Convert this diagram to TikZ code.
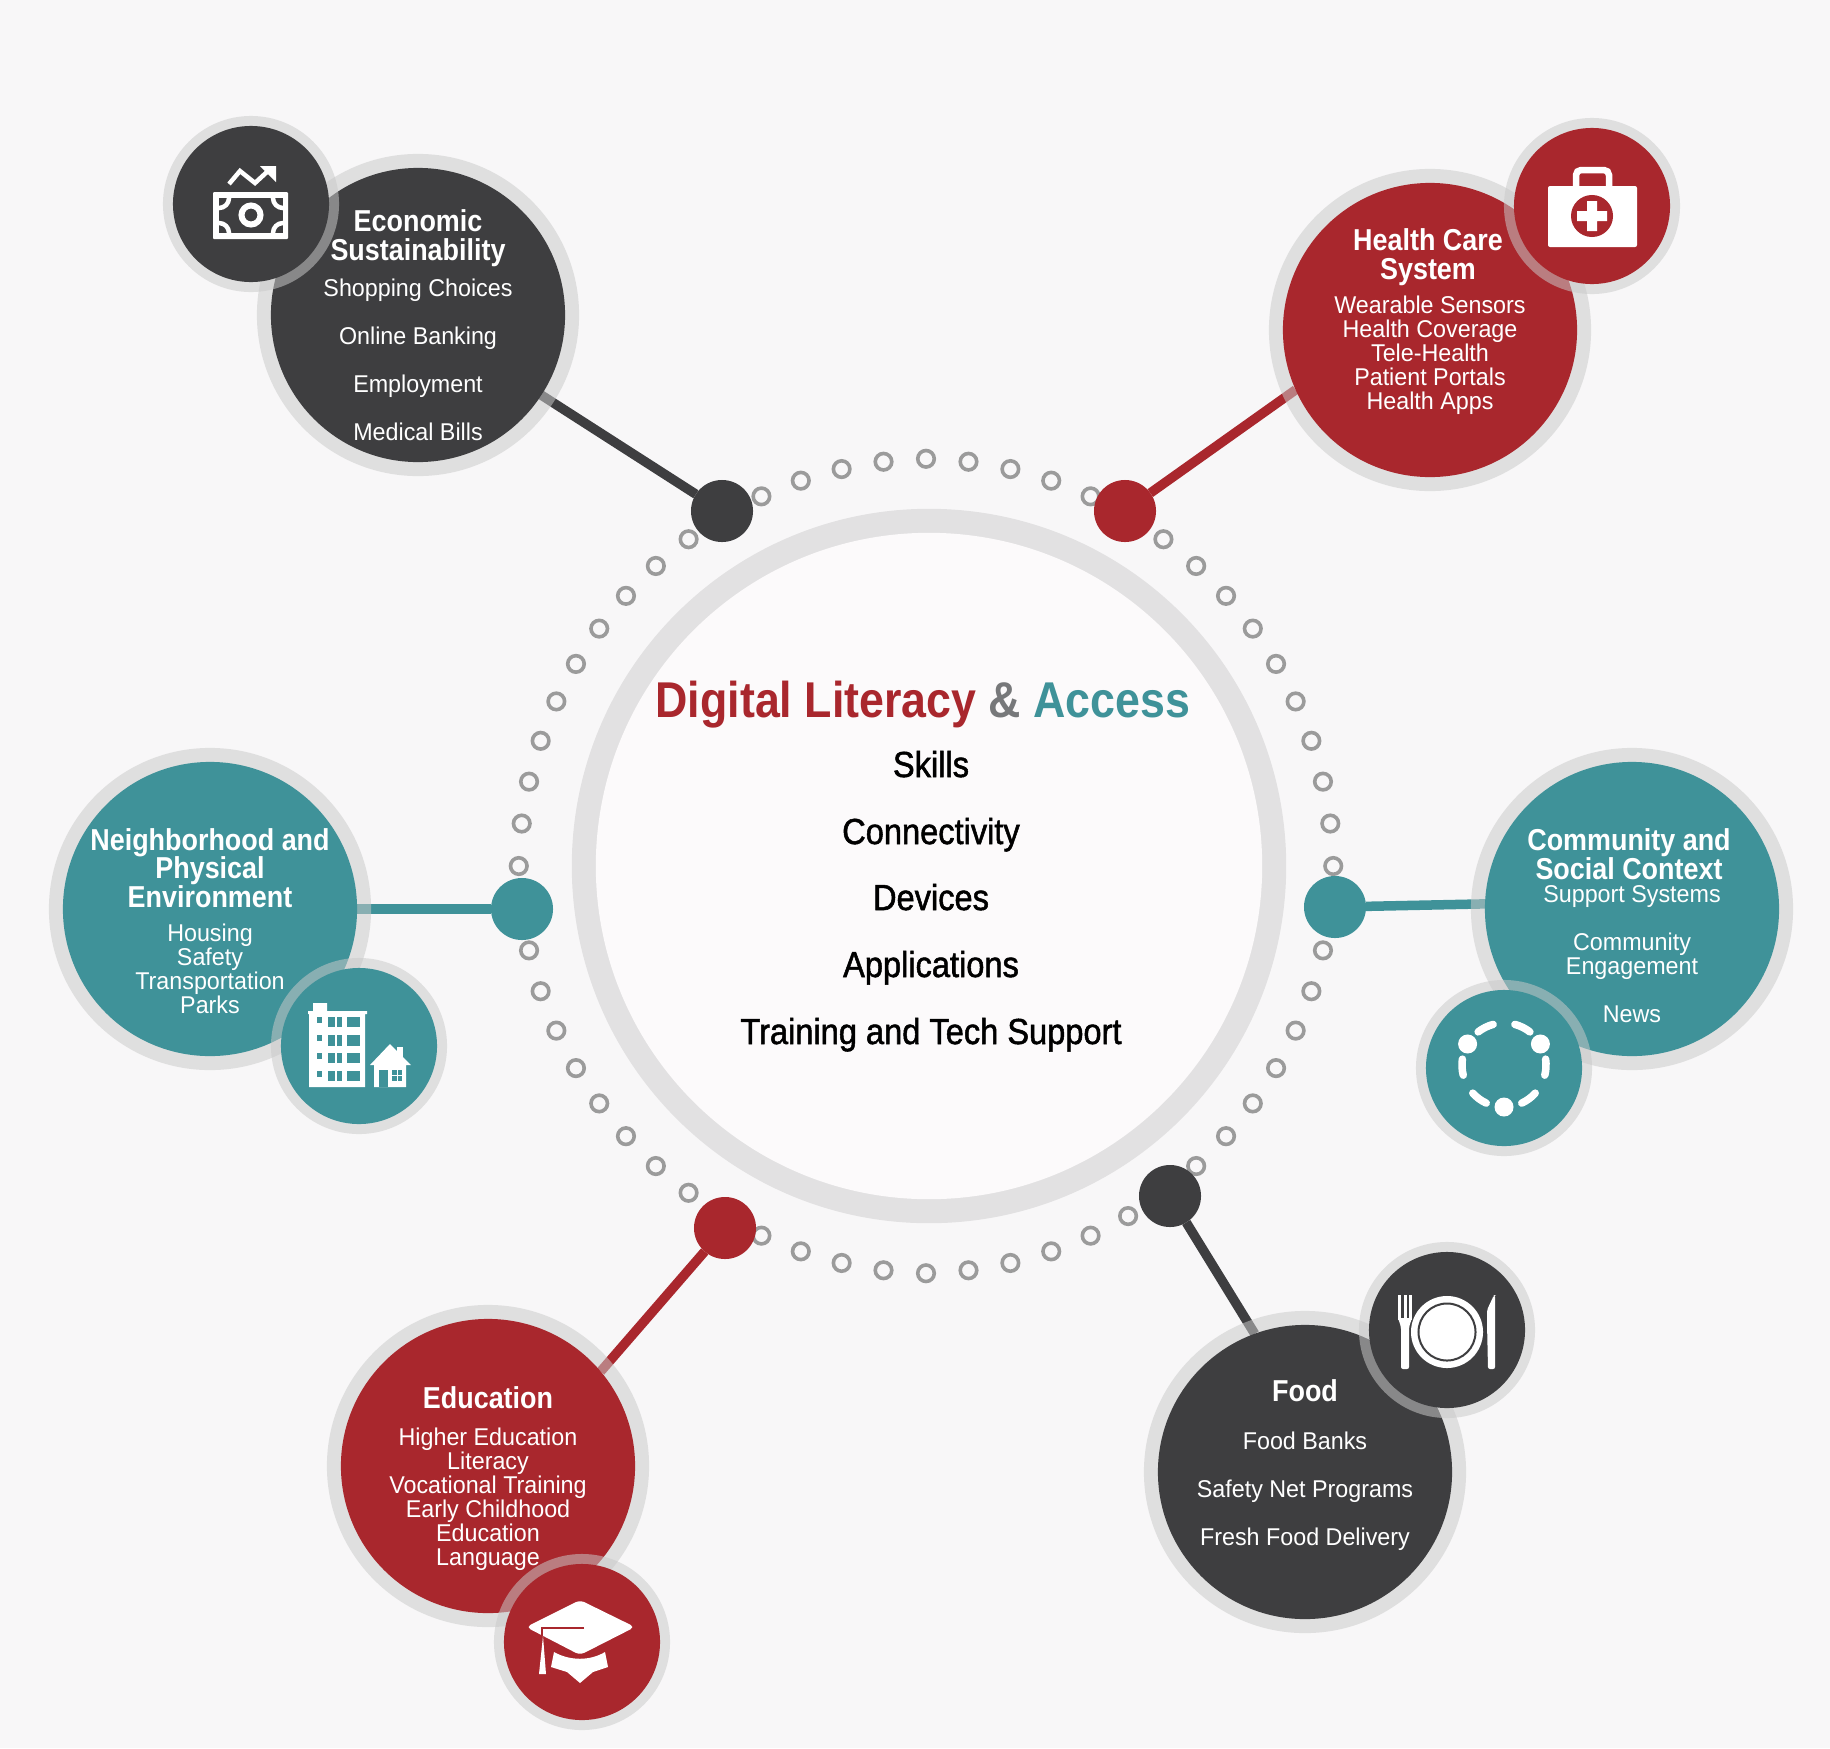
\documentclass[tikz,border=0pt]{standalone}
\usepackage{fontspec}
\setmainfont{Liberation Sans}
\newfontfamily\headfont[FakeStretch=.89]{Liberation Sans}
\newfontfamily\itemfont[FakeStretch=.9,FakeBold=1.4]{Liberation Sans}
\newfontfamily\bodyfont[FakeStretch=.96]{Liberation Sans}
\usetikzlibrary{backgrounds}

\definecolor{pagegray}{HTML}{F8F7F8}
\definecolor{corewhite}{HTML}{FCFAFB}
\definecolor{corering}{HTML}{E2E1E2}
\definecolor{halogray}{HTML}{CACACA}
\definecolor{dotgray}{HTML}{9B9B9B}
\definecolor{inkgray}{HTML}{3E3E40}
\definecolor{brickred}{HTML}{A9272D}
\definecolor{seateal}{HTML}{3F9299}
\definecolor{ampgray}{HTML}{77787A}

\tikzset{
  disc/.style={circle,inner sep=0,outer sep=0},
  halo/.style={preaction={draw=halogray,draw opacity=.53,line width=#1}},
  bigdisc/.style={disc,minimum size=2.94cm,halo=.28cm},
  icondisc/.style={disc,minimum size=1.56cm,halo=.2cm},
  hub/.style={disc,minimum size=.62cm},
  ringdot/.style={disc,draw=dotgray,line width=.036cm,minimum size=.165cm},
  headtext/.style={inner sep=0,align=center,text=white,font=\headfont\bfseries\fontsize{8.6}{8.1}\selectfont},
  listtext/.style={inner sep=0,align=center,text=white,font=\bodyfont\fontsize{6.9}{6.83}\selectfont},
  itemtext/.style={inner sep=0,anchor=base,font=\itemfont\fontsize{10.3}{12}\selectfont},
  link/.style={line width=.095cm}
}

\begin{document}
\begin{tikzpicture}[x=.01cm,y=-.01cm]
  \useasboundingbox (0,0) rectangle (1830,1748);

  \node[disc,fill=corewhite,minimum size=6.66cm,preaction={draw=corering,line width=.48cm}] (core) at (929,866) {};
  \coordinate (dotcentre) at (926,866);
  \foreach \a in {0,6,...,354} {
    \pgfmathsetmacro{\r}{4.07-.035*abs(sin(2*\a))}
    \node[ringdot] (dot\a) at ([shift={(\a:\r cm)}]dotcentre) {};
  }

  \node[hub,fill=inkgray] (hubEcon) at (722,511) {};
  \node[hub,fill=brickred] (hubHealth) at (1125,511) {};
  \node[hub,fill=seateal] (hubNeigh) at (522,909) {};
  \node[hub,fill=seateal] (hubComm) at (1335,907) {};
  \node[hub,fill=brickred] (hubEdu) at (725,1228) {};
  \node[hub,fill=inkgray] (hubFood) at (1170,1196) {};

  \node[bigdisc,fill=inkgray] (econ) at (418,315) {};
  \node[bigdisc,fill=brickred] (health) at (1430,330) {};
  \node[bigdisc,fill=seateal] (neigh) at (210,909) {};
  \node[bigdisc,fill=seateal] (comm) at (1632,909) {};
  \node[bigdisc,fill=brickred] (edu) at (488,1466) {};
  \node[bigdisc,fill=inkgray] (food) at (1305,1472) {};

  \begin{scope}[on background layer]
    \fill[pagegray] (0,0) rectangle (1830,1748);
    \draw[link,inkgray] (hubEcon) -- (econ.-33.7);
    \draw[link,brickred] (hubHealth) -- (health.204);
    \draw[link,seateal] (hubNeigh) -- (neigh.0);
    \draw[link,seateal] (hubComm) -- (comm.178.6);
    \draw[link,brickred] (hubEdu) -- (edu.40);
    \draw[link,inkgray] (hubFood) -- (food.110.8);
  \end{scope}

  \node[icondisc,fill=inkgray] (econIcon) at (251,204) {};
  \node[icondisc,fill=brickred] (healthIcon) at (1592,206) {};
  \node[icondisc,fill=seateal] (neighIcon) at (359,1046) {};
  \node[icondisc,fill=seateal] (commIcon) at (1504,1068) {};
  \node[icondisc,fill=brickred] (eduIcon) at (582,1642) {};
  \node[icondisc,fill=inkgray] (foodIcon) at (1447,1330) {};

  % banknote
  \begin{scope}[shift={(econIcon.center)}]
    \fill[white,rounded corners=.01cm] (-38,-12) rectangle (37,35);
    \fill[inkgray] (-32,-6) rectangle (32,29);
    \begin{scope}
      \clip (-32,-6) rectangle (32,29);
      \foreach \x/\y in {-32/-6,32/-6,-32/29,32/29}
        \draw[white,line width=.045cm] (\x,\y) circle[radius=.1cm];
    \end{scope}
    \draw[white,line width=.06cm] (0,11) circle[radius=.095cm];
    \draw[white,line width=.045cm] (-22,-20) -- (-11,-33) -- (4,-21) -- (17,-33);
    \fill[white] (9,-38) -- (25,-38) -- (25,-22) -- cycle;
  \end{scope}

  % first aid kit
  \begin{scope}[shift={(healthIcon.center)}]
    \draw[white,line width=.065cm,rounded corners=.05cm] (-16,-18) -- (-16,-36) -- (17,-36) -- (17,-18);
    \fill[white,rounded corners=.02cm] (-44,-20) rectangle (45,41);
    \fill[brickred] (0,10) circle[radius=.21cm];
    \fill[white] (-5,-5) rectangle (5,25) (-15,5) rectangle (15,15);
  \end{scope}

  % block of flats and house
  \begin{scope}[shift={(neighIcon.center)}]
    \fill[white] (-50,-34) rectangle (6,41) (-51,-35) rectangle (8,-32) (-46,-43) rectangle (-32,-34);
    \foreach \y in {-29.3,-11,6.7,24.7} {
      \fill[seateal] (-42.3,\y) rectangle ++(5.6,6);
      \fill[seateal] (-30.7,\y) rectangle ++(6.7,10.7);
      \fill[seateal] (-22,\y) rectangle ++(5,10.7);
      \fill[seateal] (-12.3,\y) rectangle ++(13.3,10.7);
    }
    \fill[white] (38,1.3) rectangle (44,11);
    \fill[white] (31,-2) -- (52,19) -- (47,19) -- (47,41) -- (15,41) -- (15,19) -- (11,19) -- cycle;
    \fill[seateal] (20,24) rectangle (29,41);
    \fill[seateal] (33,24) rectangle (43,35);
    \draw[white,line width=.01cm] (38,24) -- (38,35) (33,29.5) -- (43,29.5);
  \end{scope}

  % circle of people
  \begin{scope}[shift={(commIcon.center)},yshift=.03cm]
    \foreach \s/\e in {128/105,75/52,172/194,-14/8,222/245,-65/-42}
      \draw[white,line width=.075cm,line cap=round] (\s:.42cm) arc[start angle=\s,end angle=\e,radius=.42cm];
    \foreach \a in {150,30,-90}
      \fill[white] (\a:.42cm) circle[radius=.095cm];
  \end{scope}

  % graduation cap
  \begin{scope}[shift={(eduIcon.center)}]
    \fill[white,rounded corners=.05cm] (-2,-42) -- (53,-15) -- (-2,13) -- (-56,-15) -- cycle;
    \fill[white] (-28,10) .. controls (-12,19) and (8,19) .. (23,10) -- (26,25) -- (11,30) -- (-2,41) -- (-15,30) -- (-31,25) -- cycle;
    \draw[brickred,line width=.025cm] (2,-14) -- (-40,-14) -- (-40,-4);
    \fill[white] (-39,-6) -- (-36,32) -- (-43,32) -- cycle;
  \end{scope}

  % plate and cutlery
  \begin{scope}[shift={(foodIcon.center)}]
    \fill[white] (0,2) circle[radius=.36cm];
    \draw[inkgray,line width=.02cm] (0,2) circle[radius=.285cm];
    \fill[white,rounded corners=.02cm] (-49,-12) -- (-46,-3) -- (-46,39) -- (-38,39) -- (-38,-3) -- (-35,-12) -- cycle;
    \foreach \x in {-49,-43.5,-38}
      \fill[white] (\x,-35) rectangle ++(3,25);
    \fill[white,rounded corners=.02cm] (47,-35) -- (40,-20) -- (40,-7) -- (41,39) -- (48,39) -- (48,-35) -- cycle;
  \end{scope}

  \node[headtext] (econHead) at (418,238) {Economic\\Sustainability};
  \node[listtext] (econList) at (418,360) {Shopping Choices\\[.24cm]Online Banking\\[.24cm]Employment\\[.24cm]Medical Bills};
  \node[headtext] (healthHead) at (1428,257) {Health Care\\System};
  \node[listtext] (healthList) at (1430,355) {Wearable Sensors\\Health Coverage\\Tele-Health\\Patient Portals\\Health Apps};
  \node[headtext] (neighHead) at (210,868) {Neighborhood and\\Physical\\Environment};
  \node[listtext] (neighList) at (210,969) {Housing\\Safety\\Transportation\\Parks};
  \node[headtext] (commHead) at (1629,854) {Community and\\Social Context};
  \node[listtext] (commList) at (1632,954) {Support Systems\\[.24cm]Community\\Engagement\\[.24cm]News};
  \node[headtext] (eduHead) at (488,1398) {Education};
  \node[listtext] (eduList) at (488,1499) {Higher Education\\Literacy\\Vocational Training\\Early Childhood\\Education\\Language};
  \node[headtext] (foodHead) at (1305,1391) {Food};
  \node[listtext] (foodList) at (1305,1491) {Food Banks\\[.24cm]Safety Net Programs\\[.24cm]Fresh Food Delivery};

  \node[inner sep=0,font=\headfont\bfseries\fontsize{14.3}{16}\selectfont] (title) at (923,705)
    {\textcolor{brickred}{Digital Literacy} \textcolor{ampgray}{\&} \textcolor{seateal}{Access}};
  \node[itemtext] (skills) at (931,777) {Skills};
  \node[itemtext] (connect) at (931,844) {Connectivity};
  \node[itemtext] (devices) at (931,910) {Devices};
  \node[itemtext] (apps) at (931,977) {Applications};
  \node[itemtext] (support) at (931,1044) {Training and Tech Support};

\end{tikzpicture}
\end{document}
